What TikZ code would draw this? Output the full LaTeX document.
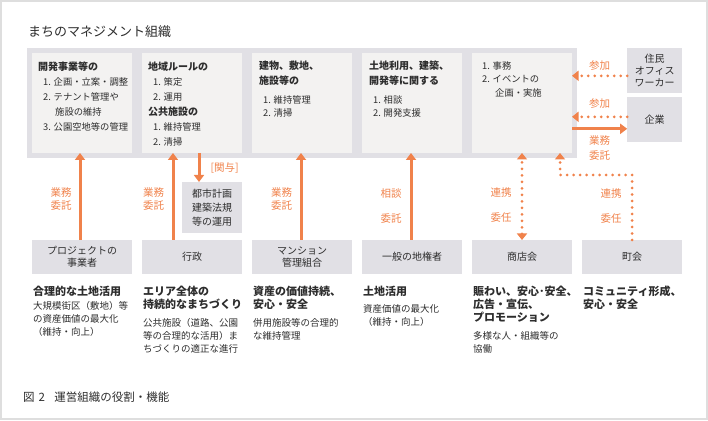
\documentclass[tikz,border=0pt]{standalone}
\usepackage{fontspec}
\setmainfont{Noto Sans CJK JP}
\usetikzlibrary{arrows.meta,positioning,fit,backgrounds}

\definecolor{bandgray}{RGB}{225,224,229}
\definecolor{paper}{RGB}{243,242,241}
\definecolor{accent}{RGB}{240,130,75}
\definecolor{ink}{RGB}{45,45,45}
\definecolor{framegray}{RGB}{222,222,222}

\newcommand{\fs}[2]{\fontsize{#1}{#2}\selectfont}
\newcommand{\hb}[1]{{\bfseries\fontsize{10}{15}\selectfont #1}}
\newcommand{\hd}[1]{{\bfseries\fontsize{11}{13}\selectfont #1}}

\begin{document}
\begin{tikzpicture}[
  x=1pt, y=1pt,
  text=ink,
  topbox/.style={rectangle, fill=paper, minimum width=100pt, minimum height=100pt,
                 inner sep=0pt, outer sep=0pt},
  band/.style={rectangle, fill=bandgray, inner sep=5pt},
  btm/.style={rectangle, fill=bandgray, minimum width=100pt, minimum height=34pt,
              inner sep=0pt, outer sep=0pt, align=center, font=\fs{10}{12.5}},
  side/.style={rectangle, fill=bandgray, minimum width=55pt, minimum height=45pt,
               inner sep=0pt, outer sep=0pt, align=center, font=\fs{10}{12.2}},
  role/.style={anchor=base west, align=left, inner sep=0pt, font=\fs{9.3}{15}},
  col/.style={anchor=base west, align=left, inner sep=0pt, font=\fs{9.5}{13}},
  lbl/.style={text=accent, font=\fs{10.5}{13}, align=center, inner sep=0pt},
  solid/.style={-{Triangle[width=10pt,length=7pt]}, line width=3pt, draw=accent},
  dots/.style={line width=3pt, draw=accent, line cap=round, dash pattern=on 0pt off 6.5pt},
  tip/.style={-{Triangle[width=10pt,length=6.5pt]}},
]
\useasboundingbox (0,0) rectangle (708,420);
\draw[framegray, line width=2pt] (1,1) rectangle (707,419);

% title
\node[anchor=base west, inner sep=0pt, font=\fs{13}{15}] (title) at (28,383) {まちのマネジメント組織};

% top row: roles
\node[topbox] (t1) at (82,317) {};
\node[topbox, right=10pt of t1] (t2) {};
\node[topbox, right=10pt of t2] (t3) {};
\node[topbox, right=10pt of t3] (t4) {};
\node[topbox, right=10pt of t4] (t5) {};
\begin{scope}[on background layer]
  \node[band, fit=(t1)(t5)] (band) {};
\end{scope}

% (base of a multi-line node = its last line)
\node[role] at ([xshift=6pt,yshift=-77.8pt]t1.north west)
  {\hb{開発事業等の}\\ \hspace*{5pt}1. 企画・立案・調整\\ \hspace*{5pt}2. テナント管理や\\
   \hspace*{17pt}施設の維持\\ \hspace*{5pt}3. 公園空地等の管理};
\node[role] at ([xshift=6pt,yshift=-92.8pt]t2.north west)
  {\hb{地域ルールの}\\ \hspace*{5pt}1. 策定\\ \hspace*{5pt}2. 運用\\
   \hb{公共施設の}\\ \hspace*{5pt}1. 維持管理\\ \hspace*{5pt}2. 清掃};
\node[role, font=\fs{9.3}{13}] at ([xshift=7pt,yshift=-63.8pt]t3.north west)
  {\hb{建物、敷地、}\\[2pt] \hb{施設等の}\\[6.3pt] \hspace*{4pt}1. 維持管理\\ \hspace*{4pt}2. 清掃};
\node[role, font=\fs{9.3}{13}] at ([xshift=7pt,yshift=-63.8pt]t4.north west)
  {\hb{土地利用、建築、}\\[2pt] \hb{開発等に関する}\\[6.3pt] \hspace*{4pt}1. 相談\\ \hspace*{4pt}2. 開発支援};
\node[role, font=\fs{9.3}{13.5}] at ([xshift=10pt,yshift=-43.5pt]t5.north west)
  {1. 事務\\ 2. イベントの\\ \hspace*{13pt}企画・実施};

% right side
\node[side, right=50pt of band.north east, anchor=north west] (jumin) {住民\\オフィス\\ワーカー};
\node[side, below=4pt of jumin] (kigyo) {企業};

% bottom row: members
\node[btm, below=87pt of t1] (b1) {プロジェクトの\\事業者};
\node[btm, below=87pt of t2] (b2) {行政};
\node[btm, below=87pt of t3] (b3) {マンション\\管理組合};
\node[btm, below=87pt of t4] (b4) {一般の地権者};
\node[btm, below=87pt of t5] (b5) {商店会};
\node[btm, right=10pt of b5] (b6) {町会};
\node[btm, minimum width=60pt, minimum height=51pt, font=\fs{10}{14},
      below=29pt of t2.south east, anchor=north east] (toshi) {都市計画\\建築法規\\等の運用};

% what each member aims at
\node[col] at ([xshift=1pt,yshift=-61.7pt]b1.south west)
  {\hd{合理的な土地活用}\\[1.5pt] 大規模街区（敷地）等\\ の資産価値の最大化\\ （維持・向上）};
\node[col] at ([xshift=1pt,yshift=-78.6pt]b2.south west)
  {\hd{エリア全体の}\\ \hd{持続的なまちづくり}\\[5.4pt] 公共施設（道路、公園\\ 等の合理的な活用）ま\\ ちづくりの適正な進行};
\node[col] at ([xshift=1pt,yshift=-65.6pt]b3.south west)
  {\hd{資産の価値持続、}\\ \hd{安心・安全}\\[5.4pt] 併用施設等の合理的\\ な維持管理};
\node[col] at ([xshift=1pt,yshift=-51.2pt]b4.south west)
  {\hd{土地活用}\\[4pt] 資産価値の最大化\\ （維持・向上）};
\node[col] at ([xshift=1pt,yshift=-78.6pt]b5.south west)
  {\hd{賑わい、安心･安全、}\\ \hd{広告・宣伝、}\\ \hd{プロモーション}\\[5.4pt] 多様な人・組織等の\\ 協働};
\node[col] at ([xshift=1pt,yshift=-34.2pt]b6.south west)
  {\hd{コミュニティ形成、}\\ \hd{安心・安全}};

% caption
\node[anchor=base west, inner sep=0pt, font=\fs{11.5}{13}] (caption) at (23,19)
  {図\hspace{0.35em}2\hspace{0.8em}運営組織の役割・機能};

% commissions up to the roles
\draw[solid] ([xshift=-2pt]b1.north) -- node[lbl, left=7pt, pos=0.47]{業務\\委託} ([xshift=-2pt]t1.south);
\draw[solid] ([xshift=-19pt]b2.north) -- node[lbl, left=7.5pt, pos=0.47]{業務\\委託} ([xshift=-19pt]t2.south);
\draw[solid] ([xshift=-1pt]b3.north) -- node[lbl, left=7.5pt, pos=0.47]{業務\\委託} ([xshift=-1pt]t3.south);
\draw[solid] ([xshift=-1pt]b4.north) -- node[lbl, left=8pt, pos=0.39]{相談\\[12pt]委託} ([xshift=-1pt]t4.south);
\draw[solid] ([xshift=7pt]t2.south) -- node[lbl, right=10pt]{[関与]} ([xshift=7pt]t2.south |- toshi.north);

% dotted links
\draw[dots, {Triangle[width=10pt,length=6.5pt]}-{Triangle[width=10pt,length=6.5pt]}] (b5.north)
  -- node[lbl, left=9pt, pos=0.4]{連携\\[12pt]委任} (t5.south);
\draw[dots, tip] (b6.north) -- node[lbl, left=9pt, pos=0.53]{連携\\[12pt]委任} ++(0,65)
  -| ([xshift=38pt]t5.south);
\draw[dots, tip] ([yshift=-5.5pt]jumin.west) -- node[lbl, above=4pt]{参加} ([yshift=-5.5pt]jumin.west -| t5.east);
\draw[dots, tip] ([yshift=2.5pt]kigyo.west) -- node[lbl, above=7pt]{参加} ([yshift=2.5pt]kigyo.west -| t5.east);
\draw[solid] ([yshift=-9.5pt]kigyo.west -| t5.east) -- node[lbl, below=5pt]{業務\\[2pt]委託} ([yshift=-9.5pt]kigyo.west);

\end{tikzpicture}
\end{document}
